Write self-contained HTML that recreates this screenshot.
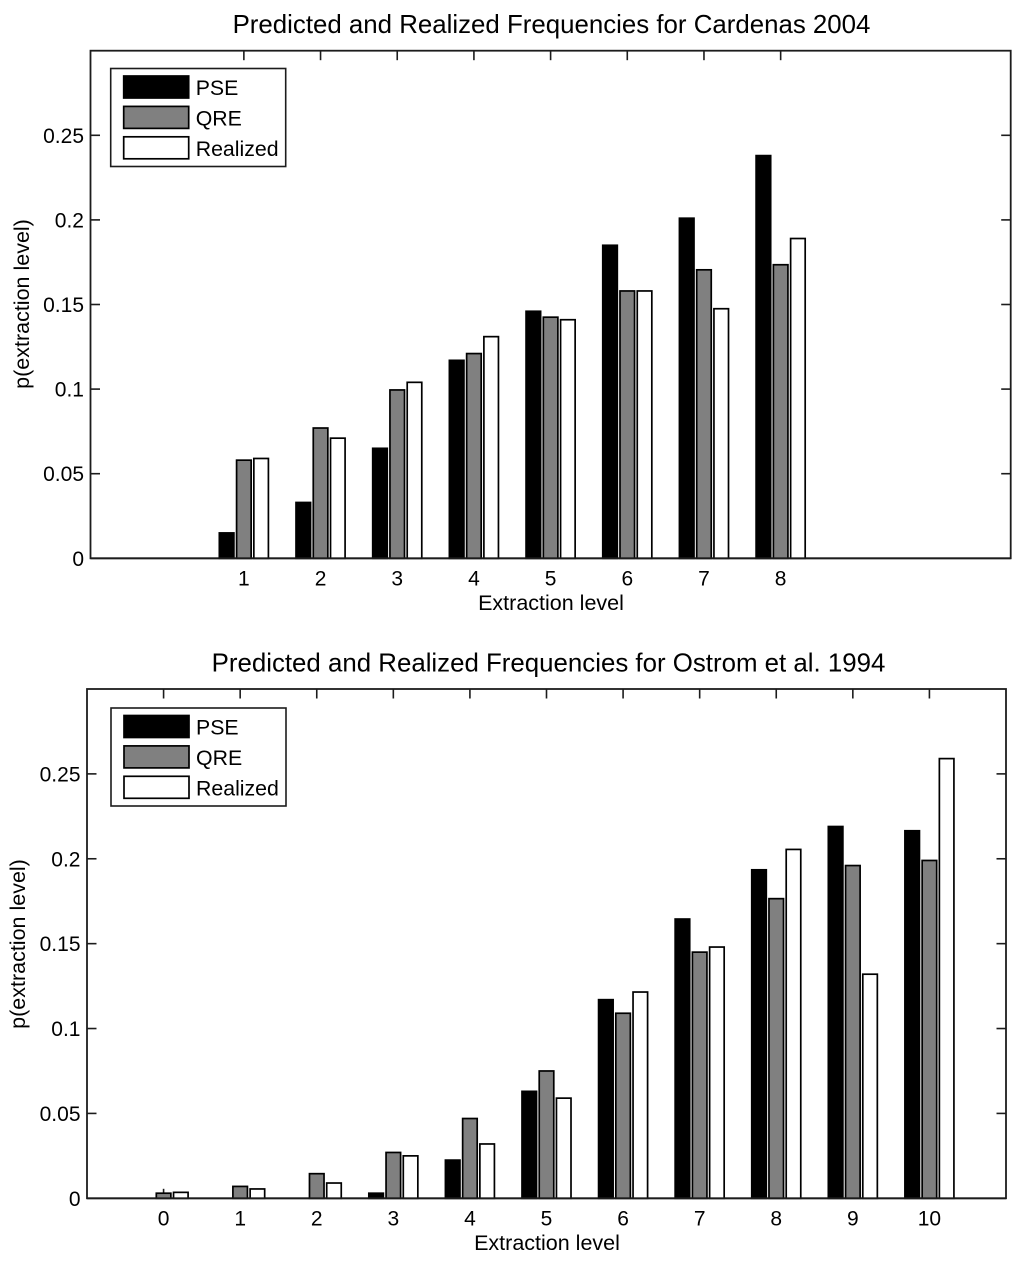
<!DOCTYPE html>
<html>
<head>
<meta charset="utf-8">
<title>Predicted and Realized Frequencies</title>
<style>
html,body{margin:0;padding:0;background:#fff;}
svg{display:block;filter:blur(0.35px);}
text{font-family:"Liberation Sans",Arial,sans-serif;fill:#000;}
</style>
</head>
<body>
<svg id="chart" width="1024" height="1261" viewBox="0 0 1024 1261" xmlns="http://www.w3.org/2000/svg"></svg>
<script>
const yTicks = [0, 0.05, 0.1, 0.15, 0.2, 0.25];
const yTickLabels = ['0', '0.05', '0.1', '0.15', '0.2', '0.25'];
const seriesNames = ['PSE', 'QRE', 'Realized'];

const cardenasTitle = 'Predicted and Realized Frequencies for Cardenas 2004';
const cardenasLevels = [1, 2, 3, 4, 5, 6, 7, 8];
const cardenasPSE = [0.015, 0.033, 0.065, 0.117, 0.146, 0.185, 0.201, 0.238];
const cardenasQRE = [0.058, 0.077, 0.0995, 0.121, 0.1425, 0.158, 0.1705, 0.1735];
const cardenasRealized = [0.059, 0.071, 0.104, 0.131, 0.141, 0.158, 0.1475, 0.189];

const ostromTitle = 'Predicted and Realized Frequencies for Ostrom et al. 1994';
const ostromLevels = [0, 1, 2, 3, 4, 5, 6, 7, 8, 9, 10];
const ostromPSE = [0, 0, 0, 0.003, 0.0225, 0.063, 0.117, 0.1645, 0.1935, 0.219, 0.2165];
const ostromQRE = [0.003, 0.007, 0.0145, 0.027, 0.047, 0.075, 0.109, 0.145, 0.1765, 0.196, 0.199];
const ostromRealized = [0.0035, 0.0055, 0.009, 0.025, 0.032, 0.059, 0.1215, 0.148, 0.2055, 0.132, 0.259];

const NS = 'http://www.w3.org/2000/svg';
const root = document.getElementById('chart');
const ink = '#1c1c1c';
const fills = ['#000000', '#808080', '#ffffff'];

function make(tag, parent, props, text) {
  const el = document.createElementNS(NS, tag);
  for (const k in props) el.setAttribute(k, props[k]);
  if (text !== undefined) el.textContent = text;
  parent.appendChild(el);
  return el;
}

function drawPanel(cfg) {
  const xScale = v => cfg.left + (v - (-1)) / 12 * (cfg.right - cfg.left);
  const yScale = v => cfg.bottom - v / 0.3 * (cfg.bottom - cfg.top);

  const g = make('g', root, {});
  
  

  const title = make('text', g, {x: cfg.titleX, y: cfg.top - 17.5, 'text-anchor': 'middle', 'font-size': 25.85}, cfg.title);
  
  

  const frame = make('rect', g, {x: cfg.left, y: cfg.top, width: cfg.right - cfg.left, height: cfg.bottom - cfg.top, fill: '#fff', stroke: ink, 'stroke-width': 1.8});
  
  

  // y ticks and labels
  yTicks.forEach((t, i) => {
    const y = yScale(t);
    if (i > 0) {
      const a = make('line', g, {x1: cfg.left, x2: cfg.left + 9.5, y1: y, y2: y, stroke: ink, 'stroke-width': 1.6});
      
      
      const b = make('line', g, {x1: cfg.right, x2: cfg.right - 9.5, y1: y, y2: y, stroke: ink, 'stroke-width': 1.6});
      
      
    }
    const lab = make('text', g, {x: cfg.left - 6.5, y: y + 7.5, 'text-anchor': 'end', 'font-size': 21}, yTickLabels[i]);
    
    
  });

  // x ticks and labels
  cfg.levels.forEach(v => {
    const x = xScale(v);
    const a = make('line', g, {x1: x, x2: x, y1: cfg.bottom, y2: cfg.bottom - 9.5, stroke: ink, 'stroke-width': 1.6});
    
    
    const b = make('line', g, {x1: x, x2: x, y1: cfg.top, y2: cfg.top + 9.5, stroke: ink, 'stroke-width': 1.6});
    
    
    const lab = make('text', g, {x: x, y: cfg.bottom + 27, 'text-anchor': 'middle', 'font-size': 21}, String(v));
    
    
  });

  // bars
  const barW = 0.19;
  const offsets = [-0.225, 0, 0.225];
  cfg.series.forEach((vals, s) => {
    vals.forEach((val, i) => {
      if (val <= 0) return;
      const cx = cfg.levels[i] + offsets[s];
      const x0 = xScale(cx - barW / 2);
      const x1 = xScale(cx + barW / 2);
      const bar = make('rect', g, {x: x0, y: yScale(val), width: x1 - x0, height: yScale(0) - yScale(val), fill: fills[s], stroke: '#000', 'stroke-width': 1.7});
      
      
    });
  });

  // redraw baseline above bars
  const base = make('line', g, {x1: cfg.left, x2: cfg.right, y1: cfg.bottom, y2: cfg.bottom, stroke: ink, 'stroke-width': 1.8});
  
  

  const xt = make('text', g, {x: cfg.xLabelX, y: cfg.bottom + 51.5, 'text-anchor': 'middle', 'font-size': 21.5}, 'Extraction level');
  
  

  const yt = make('text', g, {x: 0, y: 0, transform: 'translate(' + cfg.yLabelX + ' ' + cfg.yLabelY + ') rotate(-90)', 'text-anchor': 'middle', 'font-size': 21.5}, 'p(extraction level)');
  
  

  // legend
  const lg = make('g', g, {});
  
  
  const lx = cfg.legendX;
  const ly = cfg.legendY;
  const box = make('rect', lg, {x: lx, y: ly, width: 175, height: 98, fill: '#fff', stroke: ink, 'stroke-width': 1.6});
  
  
  seriesNames.forEach((name, s) => {
    const top = ly + 7.5 + s * 30.4;
    const swatch = make('rect', lg, {x: lx + 13, y: top, width: 65, height: 22, fill: fills[s], stroke: '#000', 'stroke-width': 1.7});
    
    
    const label = make('text', lg, {x: lx + 85, y: top + 19, 'font-size': 21.3}, name);
    
    
  });
}

drawPanel({
  name: 'cardenas-chart', title: cardenasTitle, levels: cardenasLevels,
  series: [cardenasPSE, cardenasQRE, cardenasRealized],
  left: 90.5, right: 1010.7, top: 50.7, bottom: 558.3,
  titleX: 551.5, xLabelX: 551, yLabelX: 29, yLabelY: 304,
  legendX: 110.7, legendY: 68.5
});
drawPanel({
  name: 'ostrom-chart', title: ostromTitle, levels: ostromLevels,
  series: [ostromPSE, ostromQRE, ostromRealized],
  left: 87, right: 1006, top: 689, bottom: 1198.3,
  titleX: 548.5, xLabelX: 547, yLabelX: 25, yLabelY: 944,
  legendX: 111, legendY: 708
});
</script>
</body>
</html>
